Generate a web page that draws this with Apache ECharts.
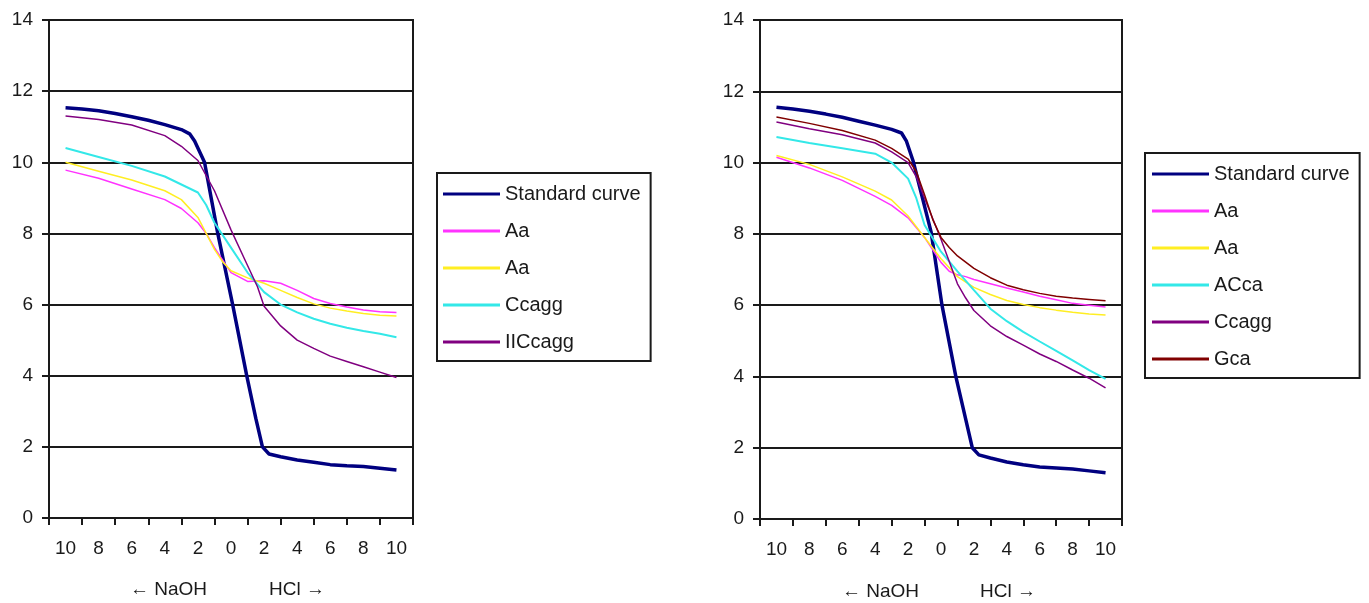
<!DOCTYPE html>
<html>
<head>
<meta charset="utf-8">
<script src="https://cdn.jsdelivr.net/npm/echarts@6/dist/echarts.min.js"></script>
<style>
  html, body { margin: 0; padding: 0; background: #fff; }
  #left { position: absolute; left: 0; top: 0; width: 680px; height: 603px; }
  #right { position: absolute; left: 680px; top: 0; width: 689px; height: 603px; }
</style>
</head>
<body>
<div id="left"></div>
<div id="right"></div>
<script>
// x: negative = NaOH added, positive = HCl added
const xLabels = ["10", "8", "6", "4", "2", "0", "2", "4", "6", "8", "10"];
const yTicks = [0, 2, 4, 6, 8, 10, 12, 14];

// left panel
const leftStandard = [[-10,11.53],[-9,11.5],[-8,11.45],[-7,11.37],[-6,11.28],[-5,11.18],[-4,11.06],[-3,10.92],[-2.5,10.8],[-2.2,10.6],[-1.6,10.0],[-0.8,8.0],[0.1,6.0],[0.95,4.0],[1.5,2.8],[1.9,2.0],[2.3,1.8],[3,1.72],[4,1.63],[5,1.57],[6,1.5],[7,1.47],[8,1.45],[9,1.4],[10,1.35]];
const leftAaPink = [[-10,9.78],[-8,9.55],[-6,9.25],[-4,8.95],[-3,8.7],[-2,8.3],[-1.5,8.0],[-1,7.6],[0,6.9],[1,6.65],[2,6.67],[3,6.6],[4,6.4],[5,6.17],[6,6.03],[7,5.93],[8,5.85],[9,5.8],[10,5.78]];
const leftAaYellow = [[-10,10.0],[-8,9.75],[-6,9.5],[-4,9.2],[-3,8.95],[-2,8.45],[-1.5,8.0],[-1,7.55],[-0.5,7.2],[0,6.95],[1,6.75],[2,6.6],[3,6.4],[4,6.2],[5,6.02],[6,5.9],[7,5.82],[8,5.75],[9,5.7],[10,5.68]];
const leftCcagg = [[-10,10.4],[-8,10.15],[-6,9.9],[-4,9.6],[-2,9.15],[-1.5,8.8],[-1,8.3],[0,7.6],[1,6.9],[2,6.35],[3,6.0],[4,5.78],[5,5.6],[6,5.46],[7,5.35],[8,5.26],[9,5.18],[10,5.08]];
const leftIICcagg = [[-10,11.3],[-8,11.2],[-6,11.05],[-4,10.75],[-3,10.45],[-2,10.05],[-1,9.2],[0,8.1],[1,7.1],[1.6,6.5],[2,5.95],[3,5.4],[4,5.0],[5,4.77],[6,4.55],[7,4.4],[8,4.25],[9,4.1],[10,3.95]];

// right panel
const rightStandard = [[-10,11.55],[-9,11.5],[-8,11.44],[-7,11.36],[-6,11.27],[-5,11.16],[-4,11.05],[-3,10.93],[-2.4,10.83],[-2.1,10.6],[-1.7,10.05],[-0.6,8.05],[0.06,6.0],[0.9,4.0],[1.5,2.8],[1.9,2.0],[2.3,1.8],[3,1.71],[4,1.6],[5,1.52],[6,1.46],[7,1.43],[8,1.4],[9,1.35],[10,1.3]];
const rightAaPink = [[-10,10.15],[-8,9.85],[-6,9.5],[-4,9.05],[-3,8.8],[-2,8.45],[-1,7.9],[0,7.2],[0.5,6.95],[1,6.85],[1.5,6.8],[2,6.72],[3,6.6],[4,6.48],[5,6.37],[6,6.25],[7,6.15],[8,6.05],[9,6.0],[10,5.95]];
const rightAaYellow = [[-10,10.2],[-8,9.95],[-6,9.6],[-4,9.2],[-3,8.95],[-2,8.5],[-1,7.9],[0,7.3],[1,6.8],[2,6.5],[3,6.3],[4,6.13],[5,6.02],[6,5.93],[7,5.86],[8,5.8],[9,5.75],[10,5.72]];
const rightACca = [[-10,10.72],[-8,10.55],[-6,10.4],[-4,10.25],[-3,10.0],[-2,9.55],[-1.5,9.0],[-1,8.25],[0,7.5],[1,6.95],[2,6.42],[3,5.9],[4,5.55],[5,5.25],[6,4.98],[7,4.72],[8,4.45],[9,4.18],[10,3.93]];
const rightCcagg = [[-10,11.14],[-8,10.95],[-6,10.78],[-4,10.55],[-3,10.3],[-2,10.0],[-1.5,9.6],[-1,9.0],[0,7.85],[1,6.6],[1.5,6.2],[2,5.85],[3,5.42],[4,5.12],[5,4.88],[6,4.63],[7,4.42],[8,4.18],[9,3.95],[10,3.68]];
const rightGca = [[-10,11.28],[-8,11.1],[-6,10.9],[-4,10.63],[-3,10.4],[-2,10.1],[-1.5,9.75],[-1,9.1],[-0.5,8.4],[0,7.9],[0.5,7.62],[1,7.38],[2,7.03],[3,6.77],[4,6.56],[5,6.43],[6,6.33],[7,6.25],[8,6.2],[9,6.16],[10,6.12]];

const FONT = "Liberation Sans, Arial, sans-serif";
const INK = "#1a1a1a";

function line(name, data, color, width) {
  return {
    name: name,
    type: "line",
    xAxisIndex: 1,
    yAxisIndex: 0,
    data: data,
    symbol: "none",
    smooth: false,
    lineStyle: { color: color, width: width },
    itemStyle: { color: color },
    emphasis: { disabled: true },
    animation: false,
  };
}

function buildOption(grid, legendPos, arrows, series) {
  return {
    animation: false,
    grid: Object.assign({ show: true, borderColor: INK, borderWidth: 2, backgroundColor: "#fff" }, grid),
    xAxis: [
      {
        type: "category",
        data: xLabels,
        boundaryGap: true,
        axisLine: { onZero: false, lineStyle: { color: INK, width: 2 } },
        axisTick: { show: true, length: 7, interval: 0, lineStyle: { color: INK, width: 2 } },
        axisLabel: { interval: 0, color: INK, fontSize: 19, fontFamily: FONT, margin: 21 },
        splitLine: { show: false },
      },
      { type: "value", min: -11, max: 11, show: false, axisLine: { onZero: false } },
    ],
    yAxis: {
      type: "value",
      min: yTicks[0],
      max: yTicks[yTicks.length - 1],
      interval: 2,
      axisLine: { show: true, onZero: false, lineStyle: { color: INK, width: 2 } },
      axisTick: { show: true, length: 7, lineStyle: { color: INK, width: 2 } },
      axisLabel: { color: INK, fontSize: 19, fontFamily: FONT, margin: 16 },
      splitLine: { show: true, lineStyle: { color: INK, width: 2 } },
    },
    legend: Object.assign({
      orient: "vertical",
      borderColor: INK,
      borderWidth: 2,
      backgroundColor: "#fff",
      icon: "rect",
      itemWidth: 57,
      itemHeight: 3,
      itemGap: 15,
      selectedMode: false,
      textStyle: { color: INK, fontSize: 20, fontFamily: FONT, lineHeight: 22 },
      formatter: (name) => name.replace(/ \(\d\)$/, ""),
    }, legendPos),
    graphic: arrows.map((a) => ({
      type: "text",
      left: a.x,
      top: a.y,
      style: { text: a.text, fill: INK, font: "19px " + FONT },
    })),
    series: series,
  };
}

const leftChart = echarts.init(document.getElementById("left"));
leftChart.setOption(buildOption(
  { left: 49, top: 20, width: 364, height: 498 },
  { left: 437, top: 173, padding: [10, 10, 8, 6] },
  [{ text: "\u2190 NaOH", x: 130, y: 580 }, { text: "HCl \u2192", x: 269, y: 580 }],
  [
    line("Standard curve", leftStandard, "#000080", 3.5),
    line("Aa (1)", leftAaPink, "#ff33ff", 1.5),
    line("Aa (2)", leftAaYellow, "#ffee22", 1.5),
    line("Ccagg", leftCcagg, "#33e8e8", 2),
    line("IICcagg", leftIICcagg, "#800080", 1.5),
  ]
));

const rightChart = echarts.init(document.getElementById("right"));
rightChart.setOption(buildOption(
  { left: 80, top: 20, width: 362, height: 499 },
  { left: 465, top: 153, padding: [10, 10, 8, 7] },
  [{ text: "\u2190 NaOH", x: 162, y: 582 }, { text: "HCl \u2192", x: 300, y: 582 }],
  [
    line("Standard curve", rightStandard, "#000080", 3.5),
    line("Aa (1)", rightAaPink, "#ff33ff", 1.5),
    line("Aa (2)", rightAaYellow, "#ffee22", 1.5),
    line("ACca", rightACca, "#33e8e8", 2),
    line("Ccagg", rightCcagg, "#800080", 1.5),
    line("Gca", rightGca, "#800000", 1.5),
  ]
));
</script>
</body>
</html>
